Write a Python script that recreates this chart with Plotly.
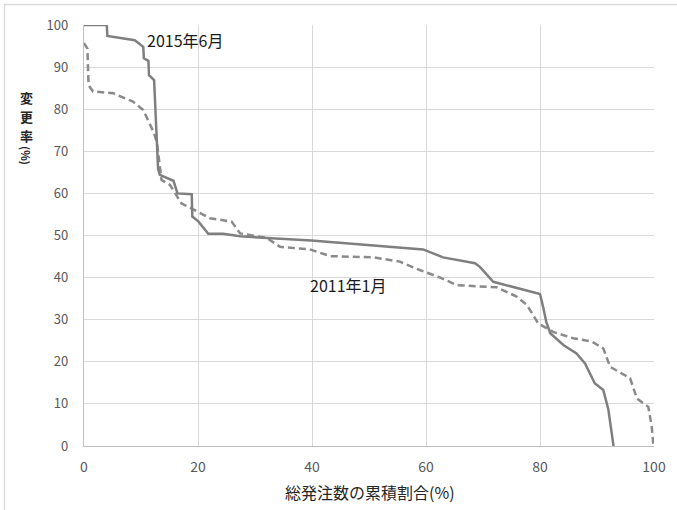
import plotly.graph_objects as go

# 2015年6月 (solid)
x_2015 = [0, 4.0, 4.1, 8.9, 10.4, 10.5, 11.3, 11.4, 12.3, 12.9, 13.0, 13.3, 15.7, 16.4, 18.9, 19.0, 20.1, 21.8, 24.4,
          27.4, 33.2, 37.9, 39.9, 59.5, 63.0, 68.6, 69.5, 71.8, 74.7, 80.0, 80.6, 81.1, 81.8, 84.1, 86.4, 87.9,
          89.6, 91.1, 92.0, 92.9]
y_2015 = [100, 100, 97.4, 96.4, 94.8, 92.1, 91.5, 88.1, 86.9, 69.5, 65.8, 64.4, 63.0, 60.0, 59.8, 54.5, 53.3, 50.4, 50.4,
          49.8, 49.3, 48.8, 48.8, 46.7, 44.8, 43.4, 42.5, 39.0, 38.0, 36.1, 32.7, 29.5, 26.8, 24.0, 22.0, 19.6,
          14.9, 13.3, 8.6, 0]

# 2011年1月 (dashed)
x_2011 = [0, 0.6, 0.8, 1.6, 5.1, 8.6, 10.4, 12.3, 12.8, 13.3, 13.6, 15.1, 17.1, 18.9, 22.1, 25.9, 27.4, 30.9,
          32.0, 34.4, 39.6, 43.2, 50.8, 55.4, 58.9, 62.5, 65.4, 72.4, 75.9, 77.7, 79.7, 82.3, 85.8, 89.1,
          91.1, 92.3, 95.8, 97.0, 99.0, 99.6, 99.9]
y_2011 = [95.7, 94.4, 85.7, 84.2, 83.8, 81.8, 79.8, 74.3, 71.9, 67.1, 63.2, 62.0, 57.6, 56.4, 54.1, 53.3, 50.5, 49.7,
          49.5, 47.3, 46.7, 45.1, 44.8, 43.8, 41.8, 40.0, 38.2, 37.7, 35.5, 33.5, 29.1, 27.1, 25.6, 24.8,
          23.2, 18.8, 16.1, 11.3, 9.3, 4.6, 0]

x_ticks = [0, 20, 40, 60, 80, 100]
y_ticks = [0, 10, 20, 30, 40, 50, 60, 70, 80, 90, 100]
y_title_chars = ["変", "更", "率"]

FONT = "Noto Sans CJK JP"
LINE = "#7f7f7f"

fig = go.Figure()
fig.add_trace(go.Scatter(x=x_2011, y=y_2011, mode="lines",
                         line=dict(color="#8a8a8a", width=2.5, dash="7px,4px"), showlegend=False))
fig.add_trace(go.Scatter(x=x_2015, y=y_2015, mode="lines",
                         line=dict(color=LINE, width=2.5), showlegend=False))

W, H = 677, 510
L, R, T, B = 84, 23, 25, 64
pw, ph = W - L - R, H - T - B

def px2paper_x(p):
    return (p - L) / pw

def px2paper_y(p):
    return (H - B - p) / ph

annotations = [
    dict(text="2015年6月", x=px2paper_x(145), y=px2paper_y(40), xref="paper", yref="paper",
         xanchor="left", yanchor="middle", showarrow=False, font=dict(size=16, color="#1a1a1a")),
    dict(text="2011年1月", x=px2paper_x(308), y=px2paper_y(285), xref="paper", yref="paper",
         xanchor="left", yanchor="middle", showarrow=False, font=dict(size=16, color="#1a1a1a")),
    dict(text="総発注数の累積割合(%)", x=px2paper_x(370), y=px2paper_y(492), xref="paper", yref="paper",
         xanchor="center", yanchor="middle", showarrow=False, font=dict(size=16, color="#262626")),
    dict(text="<b>(%)</b>", x=px2paper_x(26), y=px2paper_y(155), xref="paper", yref="paper",
         xanchor="center", yanchor="middle", showarrow=False, textangle=90, borderpad=0,
         font=dict(size=11, color="#262626")),
]
for i, ch in enumerate(y_title_chars):
    annotations.append(dict(text="<b>" + ch + "</b>", x=px2paper_x(26), y=px2paper_y(97 + 19 * i),
                            xref="paper", yref="paper", xanchor="center", yanchor="middle",
                            showarrow=False, borderpad=0, font=dict(size=13, color="#262626")))

fig.update_layout(
    width=W, height=H,
    margin=dict(l=L, r=R, t=T, b=B),
    paper_bgcolor="white", plot_bgcolor="white",
    font=dict(family=FONT, size=13, color="#595959"),
    xaxis=dict(range=[0, 100], tickvals=x_ticks, showgrid=True, gridcolor="#d9d9d9", gridwidth=1.3,
               zeroline=False, showline=True, linecolor="#bfbfbf", linewidth=1.3,
               ticklabelstandoff=8, tickfont=dict(size=14, color="#595959")),
    yaxis=dict(range=[0, 100], tickvals=y_ticks, showgrid=True, gridcolor="#d9d9d9", gridwidth=1.3,
               zeroline=False, showline=True, linecolor="#bfbfbf", linewidth=1.3,
               ticklabelstandoff=12, tickfont=dict(size=13, color="#595959")),
    shapes=[dict(type="rect", xref="paper", yref="paper",
                 x0=px2paper_x(4.5), x1=px2paper_x(690), y0=px2paper_y(520), y1=px2paper_y(4.5),
                 line=dict(color="#d9d9d9", width=1.3), fillcolor="rgba(0,0,0,0)", layer="below")],
    annotations=annotations,
)

fig.write_html("out.html", config={"displayModeBar": False},
               post_script="document.body.style.margin='0px';")
